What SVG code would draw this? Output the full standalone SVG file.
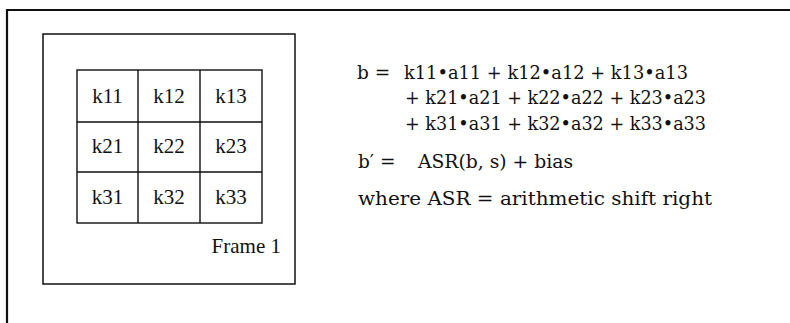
<svg xmlns="http://www.w3.org/2000/svg" width="790" height="323" viewBox="0 0 790 323">
<style>
.ln{fill:none;stroke:#111;}
.cell{font-family:"Liberation Serif","Times New Roman",serif;font-size:21px;fill:#111;text-anchor:middle;}
.lbl{font-family:"Liberation Serif","Times New Roman",serif;font-size:21px;fill:#111;}
.eq{font-family:"DejaVu Serif","Liberation Serif",serif;font-size:18.5px;fill:#111;}
</style>
<rect width="790" height="323" fill="#fff"/>
<g id="border">
<path class="ln" stroke-width="2.2" d="M7,323 V10 H790"/>
</g>
<g id="frame1">
<rect class="ln" stroke-width="1.5" x="43" y="34" width="252" height="250"/>
<text class="lbl" x="281" y="253" text-anchor="end">Frame 1</text>
</g>
<g id="kernel">
<rect class="ln" stroke-width="1.4" x="77" y="70" width="185" height="153"/>
<path class="ln" stroke-width="1.4" d="M138,70 V223 M200,70 V223 M77,122 H262 M77,172 H262"/>
<text class="cell" x="107.5" y="103">k11</text>
<text class="cell" x="169" y="103">k12</text>
<text class="cell" x="231" y="103">k13</text>
<text class="cell" x="107.5" y="153">k21</text>
<text class="cell" x="169" y="153">k22</text>
<text class="cell" x="231" y="153">k23</text>
<text class="cell" x="107.5" y="204">k31</text>
<text class="cell" x="169" y="204">k32</text>
<text class="cell" x="231" y="204">k33</text>
</g>
<g id="equations">
<text class="eq" x="357" y="79">b =</text>
<text class="eq" x="404" y="79" textLength="284" lengthAdjust="spacingAndGlyphs">k11•a11 + k12•a12 + k13•a13</text>
<text class="eq" x="405" y="104" textLength="301" lengthAdjust="spacingAndGlyphs">+ k21•a21 + k22•a22 + k23•a23</text>
<text class="eq" x="405" y="130" textLength="301" lengthAdjust="spacingAndGlyphs">+ k31•a31 + k32•a32 + k33•a33</text>
<text class="eq" x="358" y="168">b′ =</text>
<text class="eq" x="418" y="168" textLength="155" lengthAdjust="spacingAndGlyphs">ASR(b, s) + bias</text>
<text class="eq" x="358" y="205" textLength="354" lengthAdjust="spacingAndGlyphs">where ASR = arithmetic shift right</text>
</g>
</svg>
